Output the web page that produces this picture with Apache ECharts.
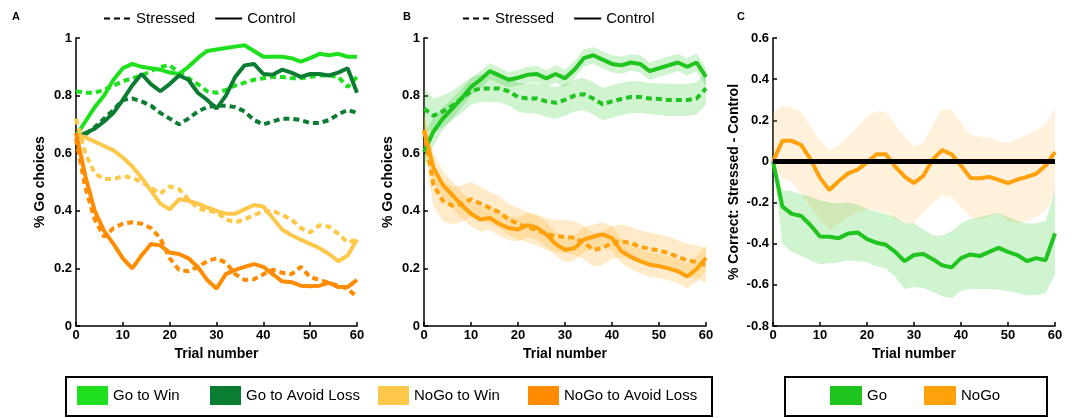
<!DOCTYPE html>
<html><head><meta charset="utf-8">
<script src="https://cdn.jsdelivr.net/npm/echarts/dist/echarts.min.js"></script>
<style>html,body{margin:0;padding:0;background:#fff}#c{width:1075px;height:418px}</style>
</head><body><div id="c"></div>
<script>
// ---------- DATA ----------
const trials = [0,2,4,6,8,10,12,14,16,18,20,22,24,26,28,30,32,34,36,38,40,42,44,46,48,50,52,54,56,58,60];

// Panel A (condition-wise % Go choices)
const aGoWinCtrl = [0.66,0.71,0.76,0.80,0.855,0.895,0.91,0.90,0.895,0.89,0.88,0.875,0.90,0.93,0.955,0.96,0.965,0.97,0.975,0.955,0.935,0.935,0.935,0.93,0.918,0.93,0.945,0.94,0.945,0.935,0.935];
const aGoWinStr  = [0.815,0.81,0.81,0.82,0.835,0.85,0.86,0.87,0.885,0.90,0.905,0.88,0.86,0.84,0.815,0.81,0.82,0.835,0.845,0.855,0.86,0.865,0.865,0.86,0.86,0.865,0.87,0.87,0.865,0.83,0.865];
const aGoAvCtrl  = [0.655,0.67,0.685,0.71,0.74,0.785,0.835,0.875,0.84,0.815,0.84,0.87,0.855,0.81,0.785,0.755,0.80,0.865,0.905,0.91,0.875,0.872,0.89,0.88,0.865,0.875,0.875,0.87,0.88,0.895,0.81];
const aGoAvStr   = [0.655,0.665,0.69,0.72,0.75,0.785,0.79,0.78,0.765,0.74,0.72,0.70,0.72,0.745,0.76,0.765,0.765,0.76,0.745,0.715,0.70,0.71,0.72,0.72,0.715,0.705,0.705,0.715,0.735,0.75,0.74];
const aNoWinCtrl = [0.665,0.655,0.64,0.625,0.61,0.585,0.555,0.515,0.47,0.425,0.405,0.44,0.435,0.425,0.412,0.40,0.39,0.39,0.405,0.42,0.415,0.375,0.335,0.315,0.30,0.285,0.27,0.25,0.225,0.245,0.30];
const aNoWinStr  = [0.72,0.60,0.53,0.51,0.51,0.52,0.515,0.50,0.48,0.46,0.485,0.475,0.44,0.41,0.40,0.395,0.37,0.36,0.37,0.385,0.397,0.40,0.385,0.37,0.34,0.325,0.35,0.345,0.32,0.29,0.30];
const aNoAvCtrl  = [0.67,0.52,0.40,0.33,0.285,0.235,0.20,0.245,0.285,0.28,0.255,0.25,0.235,0.205,0.16,0.13,0.18,0.195,0.205,0.215,0.205,0.18,0.155,0.152,0.14,0.138,0.14,0.15,0.135,0.135,0.16];
const aNoAvStr   = [0.65,0.48,0.37,0.31,0.34,0.355,0.36,0.355,0.34,0.305,0.235,0.195,0.19,0.205,0.225,0.235,0.22,0.18,0.16,0.162,0.18,0.195,0.185,0.18,0.205,0.17,0.16,0.15,0.14,0.13,0.10];

// Panel B (Go / NoGo with SEM)
const bGoCtrl = [0.605,0.675,0.72,0.755,0.79,0.83,0.855,0.885,0.87,0.855,0.862,0.872,0.875,0.86,0.875,0.86,0.89,0.93,0.94,0.925,0.91,0.905,0.915,0.91,0.885,0.895,0.905,0.915,0.90,0.915,0.865];
const bGoStr  = [0.755,0.73,0.745,0.765,0.79,0.815,0.825,0.825,0.825,0.815,0.795,0.79,0.79,0.78,0.775,0.785,0.80,0.805,0.79,0.77,0.78,0.788,0.795,0.795,0.79,0.788,0.785,0.785,0.785,0.79,0.825];
const bNoCtrl = [0.68,0.55,0.49,0.455,0.42,0.39,0.37,0.375,0.355,0.34,0.335,0.35,0.342,0.318,0.285,0.265,0.27,0.30,0.31,0.318,0.305,0.26,0.24,0.225,0.213,0.208,0.20,0.19,0.172,0.198,0.236];
const bNoStr  = [0.68,0.49,0.435,0.418,0.425,0.44,0.425,0.41,0.395,0.37,0.355,0.343,0.333,0.32,0.312,0.31,0.306,0.29,0.265,0.27,0.29,0.295,0.288,0.275,0.268,0.262,0.253,0.24,0.228,0.222,0.21];
const bGoCtrlSem = [0.06,0.05,0.04,0.035,0.032,0.03,0.03,0.028,0.028,0.027,0.027,0.028,0.028,0.029,0.03,0.03,0.03,0.03,0.029,0.029,0.03,0.03,0.029,0.03,0.03,0.03,0.031,0.03,0.03,0.031,0.032];
const bGoStrSem  = [0.07,0.06,0.055,0.05,0.05,0.048,0.047,0.047,0.048,0.05,0.05,0.052,0.053,0.054,0.055,0.055,0.056,0.056,0.056,0.056,0.057,0.056,0.056,0.055,0.055,0.055,0.056,0.056,0.056,0.056,0.057];
const bNoCtrlSem = [0.05,0.05,0.048,0.046,0.045,0.044,0.043,0.042,0.042,0.042,0.042,0.042,0.042,0.043,0.043,0.043,0.043,0.043,0.042,0.042,0.042,0.042,0.042,0.042,0.042,0.041,0.041,0.041,0.042,0.043,0.045];
const bNoStrSem  = [0.06,0.07,0.07,0.066,0.063,0.06,0.058,0.056,0.055,0.055,0.054,0.054,0.054,0.055,0.056,0.057,0.058,0.058,0.058,0.058,0.057,0.057,0.057,0.057,0.057,0.057,0.058,0.058,0.058,0.058,0.06];

// Panel C (Stressed - Control, with CI)
const cNoGo   = [0.0,0.10,0.10,0.08,0.01,-0.08,-0.139,-0.095,-0.058,-0.04,-0.005,0.035,0.035,-0.025,-0.074,-0.105,-0.07,0.01,0.055,0.035,-0.02,-0.08,-0.082,-0.075,-0.09,-0.105,-0.088,-0.075,-0.06,-0.02,0.045];
const cNoGoHi = [0.24,0.27,0.265,0.24,0.17,0.10,0.055,0.08,0.12,0.17,0.22,0.245,0.24,0.18,0.12,0.075,0.09,0.18,0.255,0.25,0.19,0.13,0.12,0.115,0.10,0.09,0.11,0.13,0.15,0.18,0.26];
const cNoGoLo = [-0.03,-0.08,-0.10,-0.16,-0.22,-0.28,-0.33,-0.30,-0.27,-0.245,-0.23,-0.24,-0.25,-0.28,-0.30,-0.30,-0.25,-0.20,-0.165,-0.175,-0.22,-0.27,-0.28,-0.27,-0.25,-0.29,-0.30,-0.29,-0.27,-0.24,-0.16];
const cGo     = [0.0,-0.22,-0.255,-0.265,-0.31,-0.365,-0.366,-0.373,-0.35,-0.345,-0.378,-0.395,-0.405,-0.44,-0.485,-0.455,-0.45,-0.475,-0.505,-0.515,-0.47,-0.452,-0.46,-0.44,-0.42,-0.44,-0.455,-0.485,-0.47,-0.48,-0.35];
const cGoHi   = [0,-0.14,-0.145,-0.16,-0.17,-0.19,-0.20,-0.205,-0.20,-0.21,-0.23,-0.245,-0.255,-0.27,-0.30,-0.30,-0.33,-0.36,-0.36,-0.34,-0.30,-0.28,-0.27,-0.26,-0.25,-0.27,-0.29,-0.30,-0.30,-0.29,-0.14];
const cGoLo   = [0,-0.40,-0.44,-0.46,-0.48,-0.50,-0.495,-0.49,-0.48,-0.485,-0.49,-0.51,-0.52,-0.56,-0.62,-0.61,-0.615,-0.635,-0.655,-0.665,-0.63,-0.62,-0.62,-0.62,-0.625,-0.63,-0.64,-0.65,-0.65,-0.64,-0.55];
const zeroLineX = [0, 60];
const zeroLineY = [0, 0];

// ---------- STYLE ----------
const FF = 'Liberation Sans, Arial, sans-serif';
const C_GOWIN = '#1fe01f', C_GOAV = '#0b7d33', C_NOWIN = '#fdc84a', C_NOAV = '#ff8c00';
const C_GO = '#1fc41f', C_NOGO = '#ffa10a';
const BAND_GO = 'rgba(40,200,40,0.22)', BAND_NOGO = 'rgba(255,170,30,0.24)';
const DASH = [6, 4];

const pts = arr => trials.map((t, i) => [t, arr[i]]);
const fmt = v => String(Math.round(v * 10) / 10);

function line(name, g, arr, color, dashed, z) {
  return { type: 'line', name, xAxisIndex: g, yAxisIndex: g, data: pts(arr),
    symbol: 'none', showSymbol: false, silent: true, z: z || 3,
    itemStyle: { color }, lineStyle: { color, width: 4, type: dashed ? DASH : 'solid' } };
}
// shaded band between lo and hi, drawn as one polygon through the axis scales
function band(g, lo, hi, color) {
  return { type: 'custom', xAxisIndex: g, yAxisIndex: g, silent: true, z: 1,
    data: trials.map((t, i) => [t, lo[i], hi[i]]), encode: { x: 0, y: [1, 2] },
    renderItem(params, api) {
      if (params.dataIndex !== 0) return null;
      const top = trials.map((t, i) => api.coord([t, hi[i]]));
      const bot = trials.map((t, i) => api.coord([t, lo[i]])).reverse();
      return { type: 'polygon', shape: { points: top.concat(bot) }, style: { fill: color } };
    } };
}
const minus = (v, s) => v.map((x, i) => x - s[i]);
const plus = (v, s) => v.map((x, i) => x + s[i]);

function xAx(g) {
  return { gridIndex: g, type: 'value', min: 0, max: 60, interval: 10,
    name: 'Trial number', nameLocation: 'middle', nameGap: 20,
    nameTextStyle: { fontFamily: FF, fontWeight: 'bold', fontSize: 14, color: '#000' },
    axisLine: { show: true, onZero: false, lineStyle: { color: '#000', width: 1.5 } },
    axisTick: { show: true, inside: true, length: 4, lineStyle: { color: '#000', width: 1.5 } },
    axisLabel: { color: '#000', fontWeight: 'bold', fontSize: 13, margin: 3, fontFamily: FF, formatter: fmt },
    splitLine: { show: false } };
}
function yAx(g, min, max, name, gap) {
  return { gridIndex: g, type: 'value', min, max, interval: 0.2,
    name, nameLocation: 'middle', nameGap: gap,
    nameTextStyle: { fontFamily: FF, fontWeight: 'bold', fontSize: 14, color: '#000' },
    axisLine: { show: true, onZero: false, lineStyle: { color: '#000', width: 1.5 } },
    axisTick: { show: true, inside: true, length: 4, lineStyle: { color: '#000', width: 1.5 } },
    axisLabel: { color: '#000', fontWeight: 'bold', fontSize: 13, margin: 4, fontFamily: FF, formatter: fmt },
    splitLine: { show: false } };
}
function itemLegend(name, color, left, top, w) {
  return { show: true, data: [{ name, icon: 'rect', itemStyle: { color, borderWidth: 0 } }],
    left, top, itemWidth: w, itemHeight: 19, padding: 0, selectedMode: false,
    textStyle: { fontFamily: FF, fontSize: 15, color: '#000' } };
}
function keyLegend(left) {
  return { show: true,
    data: [{ name: 'Stressed', itemStyle: { opacity: 0 } }, { name: 'Control', itemStyle: { opacity: 0 } }],
    left, top: 11, itemWidth: 27, itemHeight: 14, itemGap: 19,
    itemStyle: { opacity: 0 },
    padding: 0, selectedMode: false, textStyle: { fontFamily: FF, fontSize: 15, color: '#000' } };
}

const series = [
  // key series for the top legends (line-style samples only)
  { type: 'line', name: 'Stressed', xAxisIndex: 0, yAxisIndex: 0, data: [], symbol: 'none', itemStyle: { color: '#000' }, lineStyle: { color: '#000', width: 3, type: DASH } },
  { type: 'line', name: 'Control', xAxisIndex: 0, yAxisIndex: 0, data: [], symbol: 'none', itemStyle: { color: '#000' }, lineStyle: { color: '#000', width: 3 } },
  // Panel A
  line('Go to Win', 0, aGoWinCtrl, C_GOWIN, false),
  line('Go to Win', 0, aGoWinStr, C_GOWIN, true),
  line('Go to Avoid Loss', 0, aGoAvCtrl, C_GOAV, false),
  line('Go to Avoid Loss', 0, aGoAvStr, C_GOAV, true),
  line('NoGo to Win', 0, aNoWinCtrl, C_NOWIN, false),
  line('NoGo to Win', 0, aNoWinStr, C_NOWIN, true),
  line('NoGo to Avoid Loss', 0, aNoAvCtrl, C_NOAV, false),
  line('NoGo to Avoid Loss', 0, aNoAvStr, C_NOAV, true),
  // Panel B
  band(1, minus(bGoCtrl, bGoCtrlSem), plus(bGoCtrl, bGoCtrlSem), BAND_GO),
  band(1, minus(bGoStr, bGoStrSem), plus(bGoStr, bGoStrSem), BAND_GO),
  band(1, minus(bNoCtrl, bNoCtrlSem), plus(bNoCtrl, bNoCtrlSem), BAND_NOGO),
  band(1, minus(bNoStr, bNoStrSem), plus(bNoStr, bNoStrSem), BAND_NOGO),
  line('Go', 1, bGoCtrl, C_GO, false),
  line('Go', 1, bGoStr, C_GO, true),
  line('NoGo', 1, bNoCtrl, C_NOGO, false),
  line('NoGo', 1, bNoStr, C_NOGO, true),
  // Panel C
  band(2, cNoGoLo, cNoGoHi, 'rgba(255,175,60,0.18)'),
  band(2, cGoLo, cGoHi, 'rgba(40,200,40,0.22)'),
  line('NoGo', 2, cNoGo, C_NOGO, false),
  line('Go', 2, cGo, C_GO, false),
  { type: 'line', name: 'zero', xAxisIndex: 2, yAxisIndex: 2, data: zeroLineX.map((x, i) => [x, zeroLineY[i]]),
    symbol: 'none', silent: true, z: 5, lineStyle: { color: '#000', width: 5 } }
];

const option = {
  animation: false,
  backgroundColor: '#fff',
  textStyle: { fontFamily: FF },
  title: [
    { text: 'A', left: 12, top: 11, padding: 0, textStyle: { fontSize: 11, fontWeight: 'bold', fontFamily: FF, color: '#000' } },
    { text: 'B', left: 403, top: 11, padding: 0, textStyle: { fontSize: 11, fontWeight: 'bold', fontFamily: FF, color: '#000' } },
    { text: 'C', left: 737, top: 11, padding: 0, textStyle: { fontSize: 11, fontWeight: 'bold', fontFamily: FF, color: '#000' } }
  ],
  grid: [
    { left: 76, top: 38, width: 281, height: 288, outerBoundsMode: 'none' },
    { left: 424, top: 38, width: 282, height: 288, outerBoundsMode: 'none' },
    { left: 773, top: 38, width: 282, height: 288, outerBoundsMode: 'none' }
  ],
  xAxis: [xAx(0), xAx(1), xAx(2)],
  yAxis: [yAx(0, 0, 1, '% Go choices', 29), yAx(1, 0, 1, '% Go choices', 29), yAx(2, -0.8, 0.6, '% Correct: Stressed - Control', 32)],
  legend: [
    keyLegend(103), keyLegend(462),
    itemLegend('Go to Win', C_GOWIN, 77, 386, 31),
    itemLegend('Go to Avoid Loss', C_GOAV, 210, 386, 31),
    itemLegend('NoGo to Win', C_NOWIN, 378, 386, 31),
    itemLegend('NoGo to Avoid Loss', C_NOAV, 528, 386, 31),
    itemLegend('Go', C_GO, 830, 386, 32),
    itemLegend('NoGo', C_NOGO, 924, 386, 32)
  ],
  graphic: [
    { type: 'rect', shape: { x: 66, y: 377, width: 646, height: 39 }, style: { fill: 'rgba(0,0,0,0)', stroke: '#000', lineWidth: 2 } },
    { type: 'rect', shape: { x: 785, y: 377, width: 262, height: 39 }, style: { fill: 'rgba(0,0,0,0)', stroke: '#000', lineWidth: 2 } }
  ],
  series
};

const chart = echarts.init(document.getElementById('c'));
chart.setOption(option);
</script>
</body></html>
